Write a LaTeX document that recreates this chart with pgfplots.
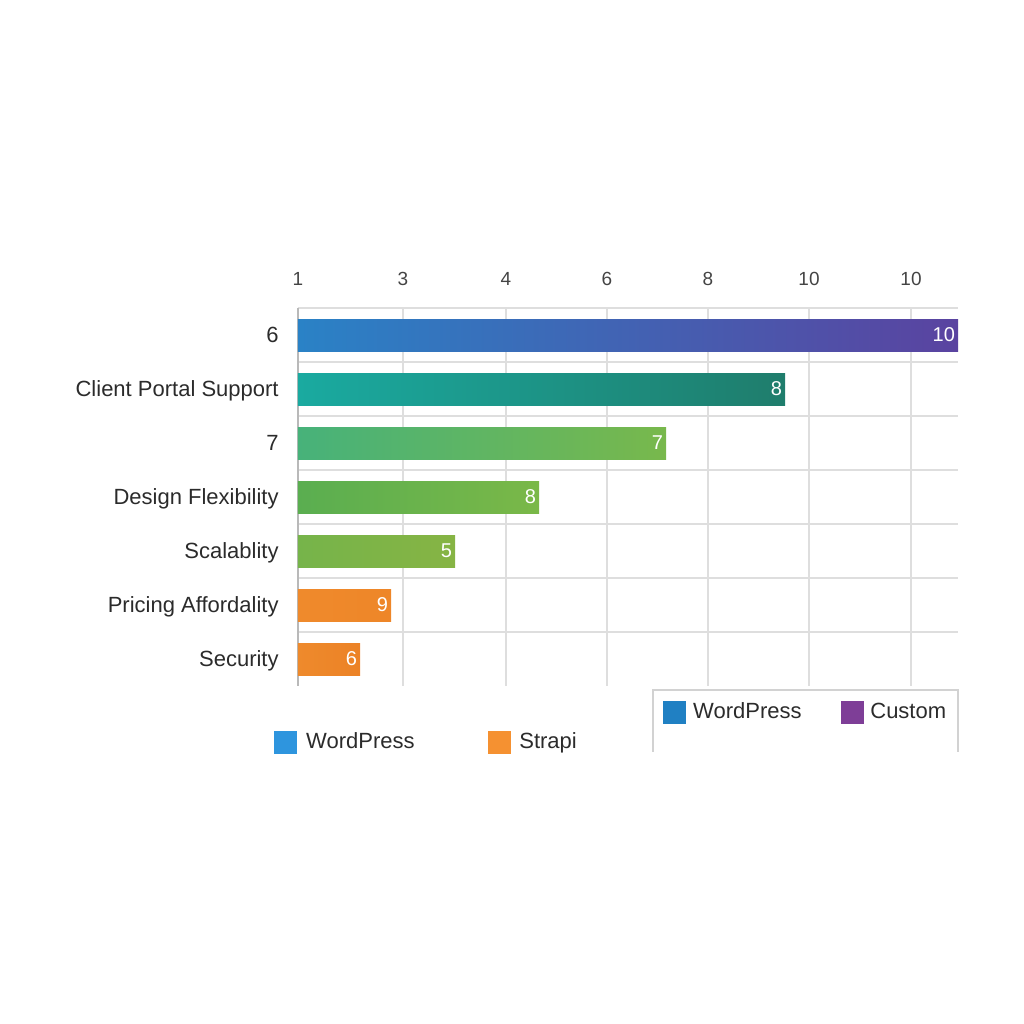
\documentclass[border=0pt]{standalone}
\usepackage{pgfplots}
\pgfplotsset{compat=1.18}
\usepackage{fontspec}
\setmainfont{Liberation Sans}
\definecolor{txt}{HTML}{2B2B2B}
\definecolor{tick}{HTML}{444444}
\definecolor{gridc}{HTML}{DEDEDE}
\definecolor{aL}{HTML}{2A82C6}\definecolor{aR}{HTML}{5A43A0}
\definecolor{bL}{HTML}{1AAAA0}\definecolor{bR}{HTML}{1F7D6C}
\definecolor{cL}{HTML}{47B27A}\definecolor{cR}{HTML}{78B84C}
\definecolor{dL}{HTML}{5AAE50}\definecolor{dR}{HTML}{7AB848}
\definecolor{eL}{HTML}{76B44A}\definecolor{eR}{HTML}{86B444}
\definecolor{fL}{HTML}{EF8A2C}\definecolor{fR}{HTML}{EE8628}
\definecolor{gL}{HTML}{EE8A2C}\definecolor{gR}{HTML}{EC8226}
\definecolor{legA}{HTML}{2080C3}\definecolor{legB}{HTML}{7E3E97}
\definecolor{legC}{HTML}{2E95DE}\definecolor{legD}{HTML}{F59131}
\begin{document}
\begin{tikzpicture}
\useasboundingbox (0,0) rectangle (512pt,512pt);
\begin{axis}[
  at={(149pt,169pt)}, anchor=south west,
  width=330pt, height=189pt, scale only axis,
  xmin=0, xmax=660, ymin=-0.5, ymax=6.5, y dir=reverse,
  axis line style={draw=none},
  xtick={0,105,208,309,410,511,613}, xticklabels={1,3,4,6,8,10,10},
  xticklabel pos=upper, xtick style={draw=none},
  xticklabel style={font=\fontsize{9.5}{11}\selectfont, text=tick, inner sep=0pt, yshift=11pt},
  ytick={0,...,6},
  yticklabels={6,Client Portal Support,7,Design Flexibility,Scalablity,Pricing Affordality,Security},
  ytick style={draw=none},
  yticklabel style={font=\fontsize{11}{13}\selectfont, text=txt, inner sep=0pt, anchor=base east, xshift=-9.5pt, yshift=-3.9pt},
  minor ytick={-0.5,0.5,...,5.5},
  xmajorgrids, yminorgrids,
  major grid style={color=gridc, line width=0.6pt},
  minor grid style={color=gridc, line width=0.6pt},
  extra x ticks={0}, extra x tick labels={},
  extra x tick style={major grid style={color=gray!55, line width=0.7pt}},
  /pgf/number format/assume math mode=true,
  legend image code/.code={\fill[#1] (0pt,-5.5pt) rectangle (11pt,5.5pt);},
  legend style={at={(0.553,-0.0688)}, anchor=west, draw=none, fill=none, inner sep=0pt,
    font=\fontsize{11}{13}\selectfont, text=txt,
    nodes={inner sep=0pt, inner xsep=3.5pt, anchor=west},
    /tikz/every even column/.append style={column sep=16pt}},
  legend columns=2,
  point meta=explicit symbolic,
  nodes near coords,
  every node near coord/.append style={anchor=east, text=white, font=\fontsize{10}{12}\selectfont, xshift=2pt},
]
\addlegendimage{legA}\addlegendentry{WordPress}
\addlegendimage{legB}\addlegendentry{Custom}
\addplot[xbar, bar width=16pt, bar shift=0pt, draw=none, left color=aL, right color=aR, forget plot] coordinates {(660,0) [10]};
\addplot[xbar, bar width=16pt, bar shift=0pt, draw=none, left color=bL, right color=bR, forget plot] coordinates {(487,1) [8]};
\addplot[xbar, bar width=16pt, bar shift=0pt, draw=none, left color=cL, right color=cR, forget plot] coordinates {(368,2) [7]};
\addplot[xbar, bar width=16pt, bar shift=0pt, draw=none, left color=dL, right color=dR, forget plot] coordinates {(241,3) [8]};
\addplot[xbar, bar width=16pt, bar shift=0pt, draw=none, left color=eL, right color=eR, forget plot] coordinates {(157,4) [5]};
\addplot[xbar, bar width=16pt, bar shift=0pt, draw=none, left color=fL, right color=fR, forget plot] coordinates {(93,5) [9]};
\addplot[xbar, bar width=16pt, bar shift=0pt, draw=none, left color=gL, right color=gR, forget plot] coordinates {(62,6) [6]};
\end{axis}
\begin{axis}[
  at={(149pt,169pt)}, anchor=south west,
  width=330pt, height=189pt, scale only axis,
  xmin=0, xmax=1, ymin=0, ymax=1, hide axis,
  legend image code/.code={\fill[#1] (0pt,-5.5pt) rectangle (11pt,5.5pt);},
  legend style={at={(-0.0364,-0.148)}, anchor=west, draw=none, fill=none, inner sep=0pt,
    font=\fontsize{11}{13}\selectfont, text=txt,
    nodes={inner sep=0pt, inner xsep=4.5pt, anchor=west},
    /tikz/every even column/.append style={column sep=32pt}},
  legend columns=2,
]
\addplot[draw=none, forget plot] coordinates {(0,0)};
\addlegendimage{legC}\addlegendentry{WordPress}
\addlegendimage{legD}\addlegendentry{Strapi}
\end{axis}
\draw[gray!35, line width=0.8pt] (326.5pt,136pt) -- (326.5pt,167pt) -- (479pt,167pt) -- (479pt,136pt);
\end{tikzpicture}
\end{document}
